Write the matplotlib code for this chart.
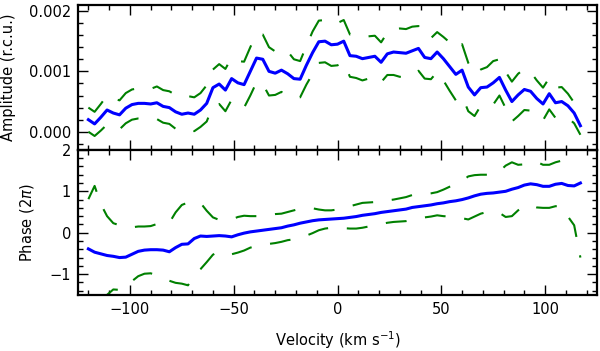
import numpy as np
import matplotlib
matplotlib.use("Agg")
import matplotlib.pyplot as plt
from matplotlib.ticker import MultipleLocator, FormatStrFormatter

# velocity grid (km/s)
velocity = np.arange(-120, 120, 3)

amplitude = [0.00020, 0.00013, 0.00024, 0.00036, 0.00031, 0.00028, 0.00039, 0.00045,
             0.00047, 0.00047, 0.00046, 0.00048, 0.00042, 0.00040, 0.00033, 0.00029,
             0.00031, 0.00029, 0.00036, 0.00047, 0.00073, 0.00079, 0.00069, 0.00088,
             0.00081, 0.00078, 0.00100, 0.00122, 0.00120, 0.00100, 0.00097, 0.00102,
             0.00096, 0.00088, 0.00087, 0.00110, 0.00131, 0.00149, 0.00150, 0.00144,
             0.00145, 0.00150, 0.00126, 0.00125, 0.00121, 0.00123, 0.00125, 0.00115,
             0.00129, 0.00132, 0.00131, 0.00130, 0.00134, 0.00138, 0.00123, 0.00121,
             0.00132, 0.00121, 0.00108, 0.00095, 0.00102, 0.00074, 0.00061, 0.00073,
             0.00074, 0.00081, 0.00090, 0.00069, 0.00050, 0.00061, 0.00070, 0.00067,
             0.00055, 0.00046, 0.00063, 0.00048, 0.00050, 0.00043, 0.00031, 0.00010]

amplitude_err = [0.00020, 0.00020, 0.00022, 0.00024, 0.00024, 0.00024, 0.00025, 0.00025,
                 0.00025, 0.00025, 0.00025, 0.00027, 0.00027, 0.00027, 0.00028, 0.00028,
                 0.00028, 0.00028, 0.00028, 0.00030, 0.00030, 0.00033, 0.00035, 0.00035,
                 0.00036, 0.00038, 0.00040, 0.00040, 0.00041, 0.00040, 0.00036, 0.00036,
                 0.00037, 0.00032, 0.00030, 0.00032, 0.00035, 0.00035, 0.00035, 0.00035,
                 0.00035, 0.00035, 0.00035, 0.00036, 0.00036, 0.00035, 0.00034, 0.00033,
                 0.00035, 0.00038, 0.00040, 0.00040, 0.00040, 0.00037, 0.00035, 0.00034,
                 0.00033, 0.00036, 0.00040, 0.00043, 0.00043, 0.00040, 0.00035, 0.00030,
                 0.00033, 0.00036, 0.00030, 0.00030, 0.00033, 0.00035, 0.00034, 0.00032,
                 0.00030, 0.00027, 0.00026, 0.00025, 0.00024, 0.00020, 0.00017, 0.00015]

phase = [-0.39, -0.47, -0.51, -0.55, -0.57, -0.60, -0.59, -0.52, -0.45, -0.42,
         -0.41, -0.41, -0.42, -0.46, -0.36, -0.28, -0.27, -0.14, -0.08, -0.09,
         -0.08, -0.07, -0.08, -0.10, -0.05, -0.01, 0.02, 0.04, 0.06, 0.08,
         0.10, 0.12, 0.16, 0.19, 0.23, 0.26, 0.29, 0.31, 0.32, 0.33,
         0.34, 0.35, 0.37, 0.39, 0.42, 0.44, 0.46, 0.49, 0.51, 0.53,
         0.55, 0.57, 0.61, 0.63, 0.65, 0.67, 0.70, 0.72, 0.75, 0.77,
         0.80, 0.84, 0.89, 0.93, 0.95, 0.96, 0.98, 1.00, 1.05, 1.09,
         1.15, 1.18, 1.16, 1.12, 1.12, 1.17, 1.19, 1.14, 1.13, 1.20]

phase_err = [1.20, 1.60, 1.20, 0.95, 0.80, 0.78, 0.72, 0.65, 0.60, 0.57,
             0.57, 0.62, 0.66, 0.70, 0.85, 0.95, 1.00, 0.88, 0.80, 0.62,
             0.45, 0.38, 0.40, 0.42, 0.43, 0.42, 0.38, 0.36, 0.35, 0.35,
             0.35, 0.34, 0.34, 0.35, 0.35, 0.33, 0.30, 0.25, 0.22, 0.21,
             0.22, 0.24, 0.27, 0.29, 0.30, 0.29, 0.28, 0.28, 0.27, 0.27,
             0.28, 0.29, 0.30, 0.29, 0.28, 0.28, 0.28, 0.32, 0.36, 0.40,
             0.45, 0.52, 0.50, 0.47, 0.45, 0.45, 0.50, 0.62, 0.65, 0.55,
             0.50, 0.52, 0.55, 0.52, 0.52, 0.53, 0.55, 0.75, 0.95, 1.80]

amplitude = np.array(amplitude)
amplitude_err = np.array(amplitude_err)
phase = np.array(phase)
phase_err = np.array(phase_err)

plt.rcParams['font.family'] = 'DejaVu Sans'
plt.rcParams['font.size'] = 10.5
plt.rcParams['axes.linewidth'] = 1.6
plt.rcParams['mathtext.fontset'] = 'dejavusans'

fig, (ax1, ax2) = plt.subplots(2, 1, sharex=True, figsize=(6.0, 3.51), dpi=100)
fig.subplots_adjust(left=0.13, right=0.995, top=0.986, bottom=0.16, hspace=0)

blue = (0, 0, 1)
green = (0, 0.5, 0)
dash = (10, 9)

ax1.plot(velocity, amplitude + amplitude_err, '--', color=green, lw=1.5, dashes=dash)
ax1.plot(velocity, amplitude - amplitude_err, '--', color=green, lw=1.5, dashes=dash)
ax1.plot(velocity, amplitude, '-', color=blue, lw=2.2)
ax1.set_ylim(-0.0003, 0.0021)
ax1.yaxis.set_major_locator(MultipleLocator(0.001))
ax1.yaxis.set_minor_locator(MultipleLocator(0.0002))
ax1.yaxis.set_major_formatter(FormatStrFormatter('%.3f'))
ax1.set_ylabel('Amplitude (r.c.u.)', labelpad=9)

ax2.plot(velocity, phase + phase_err, '--', color=green, lw=1.5, dashes=dash)
ax2.plot(velocity, phase - phase_err, '--', color=green, lw=1.5, dashes=dash)
ax2.plot(velocity, phase, '-', color=blue, lw=2.2)
ax2.set_ylim(-1.5, 2)
ax2.yaxis.set_major_locator(MultipleLocator(1))
ax2.yaxis.set_minor_locator(MultipleLocator(0.2))
ax2.set_ylabel(r'Phase (2$\pi$)', labelpad=10)
ax2.set_xlabel(r'Velocity (km s$^{-1}$)', labelpad=9)

ax2.set_xlim(-125, 125)
ax2.xaxis.set_major_locator(MultipleLocator(50))
ax2.xaxis.set_minor_locator(MultipleLocator(10))

for ax in (ax1, ax2):
    ax.tick_params(which='both', direction='in', top=True, right=True, width=1)
    ax.tick_params(which='major', length=7, pad=5)
    ax.tick_params(which='minor', length=3.5)
ax1.tick_params(labelbottom=False)

fig.savefig('out.png', dpi=100)
